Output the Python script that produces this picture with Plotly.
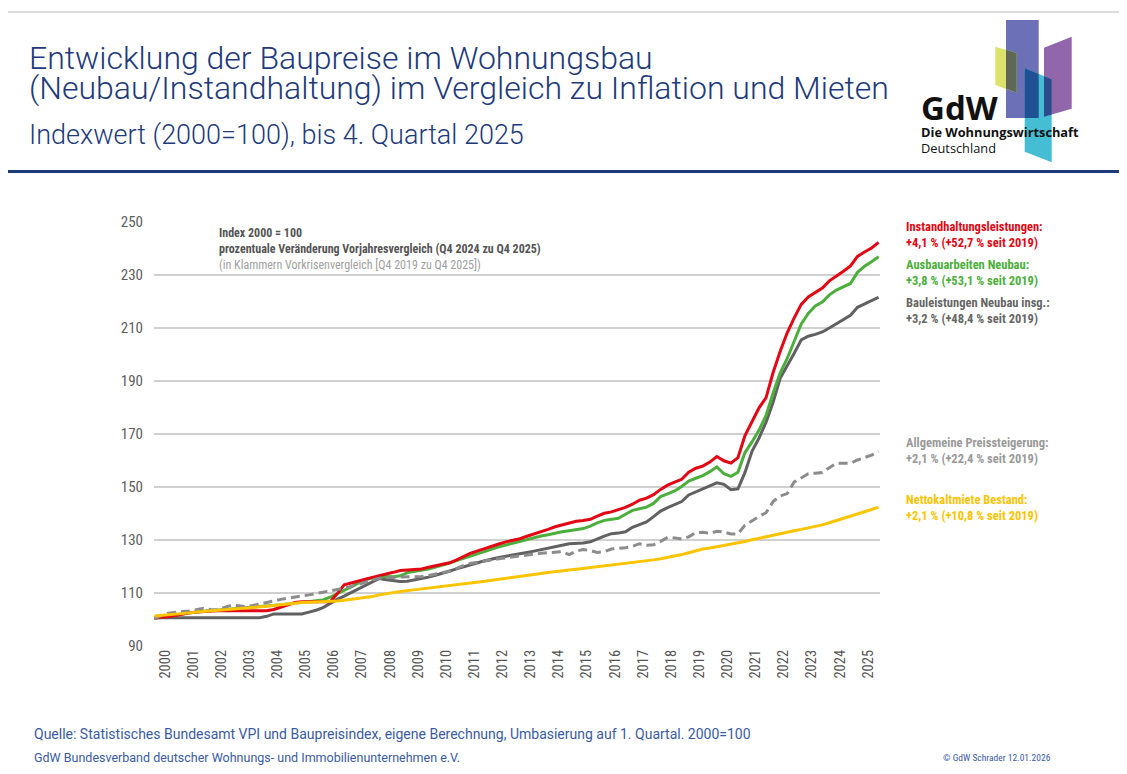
import plotly.graph_objects as go

# ---------------- data (quarterly index, 2000 Q1 .. 2025 Q4) ----------------
years = list(range(2000, 2026))
quarters = [f"{y} Q{q}" for y in years for q in range(1, 5)]

instandhaltung = [
    100.5, 100.7, 101.1, 101.5, 102.1, 102.5, 102.8, 103.0, 103.2, 103.3, 103.3, 103.3, 103.3, 103.3, 103.3, 103.3,
    103.3, 103.8, 104.7, 105.7, 106.4, 106.7, 106.7, 106.7, 106.7, 106.7, 109.7, 113.1, 113.8, 114.6, 115.2, 115.9,
    116.5, 117.0, 117.8, 118.5, 118.7, 118.9, 119.1, 119.7, 120.2, 120.8, 121.4, 122.5, 123.8, 125.0, 125.9, 126.8,
    127.8, 128.5, 129.3, 129.9, 130.5, 131.4, 132.2, 133.1, 134.0, 135.0, 135.7, 136.5, 137.1, 137.4, 137.8, 139.0,
    140.1, 140.6, 141.4, 142.3, 143.5, 145.0, 145.8, 147.1, 149.1, 150.7, 151.8, 152.9, 155.6, 157.1, 157.9, 159.4,
    161.5, 159.9, 159.0, 161.1, 169.4, 174.7, 179.9, 183.7, 193.2, 201.1, 208.2, 213.8, 218.9, 221.7, 223.4, 225.1,
    227.8, 229.5, 231.4, 233.4, 237.0, 238.7, 240.2, 242.3,
]
ausbau_neubau = [
    100.6, 101.0, 101.4, 101.8, 102.2, 102.5, 102.8, 103.1, 103.4, 103.6, 103.8, 104.0, 104.2, 104.4, 104.6, 104.8,
    105.0, 105.3, 105.6, 105.9, 106.2, 106.5, 106.8, 107.1, 107.4, 108.4, 109.6, 110.8, 112.3, 113.7, 115.0, 115.6,
    116.0, 116.2, 116.1, 116.5, 117.7, 118.1, 118.5, 119.0, 119.8, 120.5, 121.3, 122.2, 123.1, 124.0, 124.8, 125.7,
    126.6, 127.4, 128.1, 128.8, 129.5, 130.2, 130.9, 131.5, 132.0, 132.6, 133.1, 133.5, 133.9, 134.3, 135.2, 136.5,
    137.4, 137.8, 138.2, 139.7, 141.2, 141.8, 142.4, 143.8, 146.4, 147.4, 148.5, 150.2, 152.2, 153.3, 154.3, 155.8,
    157.6, 155.0, 154.0, 155.6, 163.0, 167.0, 171.5, 177.0, 185.5, 193.0, 198.5, 205.0, 211.5, 215.5, 218.3, 219.8,
    222.5, 224.3, 225.5, 226.8, 231.0, 233.3, 235.0, 236.9,
]
bauleistungen_neubau = [
    100.7, 100.7, 100.7, 100.7, 100.7, 100.7, 100.7, 100.7, 100.7, 100.7, 100.7, 100.7, 100.7, 100.7, 100.7, 100.7,
    101.2, 102.1, 102.1, 102.1, 102.1, 102.1, 102.8, 103.5, 104.5, 106.2, 107.6, 108.8, 110.1, 111.5, 112.8, 114.1,
    115.5, 115.0, 114.6, 114.3, 114.4, 114.9, 115.4, 116.0, 116.7, 117.4, 118.3, 119.1, 119.8, 120.6, 121.4, 122.2,
    122.9, 123.4, 123.9, 124.3, 124.8, 125.3, 125.8, 126.3, 126.9, 127.5, 128.0, 128.6, 128.7, 128.9, 129.3, 130.5,
    131.5, 132.4, 132.6, 133.1, 134.8, 135.8, 136.8, 138.8, 140.9, 142.2, 143.3, 144.5, 147.0, 148.1, 149.1, 150.5,
    151.6, 151.0, 149.0, 149.3, 155.5, 163.5, 168.5, 174.5, 182.0, 191.0, 195.5, 200.5, 205.5, 206.9, 207.6, 208.5,
    210.0, 211.7, 213.2, 214.8, 217.8, 219.0, 220.2, 221.6,
]
preissteigerung = [
    100.2, 101.5, 102.4, 102.8, 103.0, 103.2, 103.8, 104.2, 103.8, 103.6, 104.6, 105.4, 105.2, 104.9, 105.3, 105.8,
    106.4, 107.0, 107.6, 108.1, 108.5, 108.9, 109.3, 109.9, 110.3, 110.8, 111.2, 111.8, 112.5, 113.3, 114.2, 115.0,
    115.6, 115.9, 115.8, 116.0, 116.0, 116.1, 116.2, 116.6, 117.2, 117.7, 118.1, 119.3, 120.4, 121.2, 121.7, 122.2,
    122.5, 122.9, 123.3, 123.6, 124.0, 124.3, 124.7, 125.0, 125.2, 125.4, 125.6, 124.5, 125.8, 126.4, 126.0, 125.3,
    125.6, 126.6, 126.8, 127.1, 127.6, 128.6, 128.0, 128.2, 129.5, 131.0, 130.8, 130.4, 131.2, 132.8, 132.9, 132.5,
    133.3, 133.0, 132.3, 132.3, 135.6, 137.3, 138.9, 140.3, 144.5, 146.6, 147.5, 151.9, 153.5, 155.0, 155.2, 155.5,
    157.3, 159.0, 159.0, 159.0, 160.2, 161.1, 162.0, 163.4,
]
nettokaltmiete = [
    101.3, 101.5, 101.8, 102.0, 102.3, 102.5, 102.8, 103.0, 103.2, 103.4, 103.6, 103.9, 104.1, 104.3, 104.5, 104.7,
    105.0, 105.3, 105.6, 105.9, 106.2, 106.4, 106.5, 106.6, 106.7, 106.8, 107.0, 107.3, 107.6, 107.9, 108.2, 108.7,
    109.3, 109.8, 110.3, 110.6, 110.9, 111.2, 111.5, 111.8, 112.1, 112.4, 112.7, 113.0, 113.3, 113.6, 114.0, 114.4,
    114.8, 115.2, 115.5, 115.9, 116.2, 116.6, 117.0, 117.4, 117.7, 118.1, 118.4, 118.7, 119.0, 119.3, 119.6, 119.9,
    120.2, 120.5, 120.9, 121.2, 121.5, 121.8, 122.1, 122.5, 122.9, 123.4, 123.9, 124.5, 125.2, 125.9, 126.6, 127.0,
    127.5, 128.0, 128.4, 128.8, 129.4, 130.1, 130.7, 131.3, 131.9, 132.5, 133.0, 133.5, 134.0, 134.5, 135.0, 135.7,
    136.5, 137.3, 138.0, 138.8, 139.7, 140.6, 141.5, 142.4,
]

y_ticks = [90, 110, 130, 150, 170, 190, 210, 230, 250]
year_labels = [str(y) for y in years]

right_labels = [
    ("Instandhaltungsleistungen:", "+4,1 % (+52,7 % seit 2019)", "#e30613", 226, 242),
    ("Ausbauarbeiten Neubau:", "+3,8 % (+53,1 % seit 2019)", "#4caf3c", 264.5, 280.5),
    ("Bauleistungen Neubau insg.:", "+3,2 % (+48,4 % seit 2019)", "#666666", 302.5, 318.5),
    ("Allgemeine Preissteigerung:", "+2,1 % (+22,4 % seit 2019)", "#9a9a9a", 442, 458),
    ("Nettokaltmiete Bestand:", "+2,1 % (+10,8 % seit 2019)", "#fcc400", 499, 515),
]

# ---------------- geometry helpers (reference pixel coords -> paper) ----------------
OFF = 8                      # page body margin
W, H = 1127 - OFF, 774 - OFF
L, R, T, B = 154, 880, 222, 646   # plot area in reference pixels


def px(x):
    return (x - L) / (R - L)


def py(y):
    return (B - y) / (B - T)


x_pos = [int(q[:4]) + (int(q[-1]) - 1) / 4 for q in quarters]

COND = "Roboto Condensed, Roboto, sans-serif"
TITLE_FONT = "Roboto, Open Sans, sans-serif"
LOGO_FONT = "Open Sans, sans-serif"
BLUE = "#1e3a7b"

fig = go.Figure()

series = [
    (bauleistungen_neubau, "#616161", "solid", "Bauleistungen Neubau insg."),
    (ausbau_neubau, "#4caf3c", "solid", "Ausbauarbeiten Neubau"),
    (instandhaltung, "#e30613", "solid", "Instandhaltungsleistungen"),
    (preissteigerung, "#8c8c8c", "9px,5px", "Allgemeine Preissteigerung"),
    (nettokaltmiete, "#fcc400", "solid", "Nettokaltmiete Bestand"),
]
for vals, col, dash, name in series:
    fig.add_trace(go.Scatter(
        x=x_pos, y=vals, mode="lines", name=name,
        line=dict(color=col, width=3, dash=dash),
        hoverinfo="skip",
    ))

ann = []


def text(x, y, s, size, color, family=COND, bold=False, anchor="left", weight=None):
    xx = x - 3 if anchor == "left" else x + 3
    ann.append(dict(
        x=px(xx), y=py(y), xref="paper", yref="paper", text=s, showarrow=False,
        xanchor=anchor, yanchor="middle", align=anchor if anchor != "center" else "center",
        font=dict(family=family, size=size, color=color,
                  weight=weight if weight is not None else (700 if bold else 400)),
    ))


# title block (two big lines in one text, line pitch from the base size)
title_lines = ["Entwicklung der Baupreise im Wohnungsbau",
               "(Neubau/Instandhaltung) im Vergleich zu Inflation und Mieten"]
text(30, 73, "<br>".join(f"<span style='font-size:32px'>{t}</span>" for t in title_lines),
     23, BLUE, TITLE_FONT, weight=300)
text(30, 135, "Indexwert (2000=100), bis 4. Quartal 2025", 27, BLUE, TITLE_FONT, weight=300)

# logo text (one block)
text(922, 121,
     "<b><span style='font-size:33px'>GdW</span></b><br><b>Die Wohnungswirtschaft</b><br>Deutschland",
     12.8, "#111111", LOGO_FONT)

# in-plot note
text(220, 233, "Index 2000 = 100", 12, "#555555", bold=True)
text(220, 249, "prozentuale Veränderung Vorjahresvergleich (Q4 2024 zu Q4 2025)", 12, "#555555", bold=True)
text(220, 265, "(in Klammern Vorkrisenvergleich [Q4 2019 zu Q4 2025])", 12, "#a0a0a0")

# right-hand labels
for l1, l2, col, y1, y2 in right_labels:
    text(907, y1, l1, 12.5, col, bold=True)
    text(907, y2, l2, 12.5, col, bold=True)

# footer
text(35, 734, "Quelle: Statistisches Bundesamt VPI und Baupreisindex, eigene Berechnung, Umbasierung auf 1. Quartal. 2000=100",
     14, "#3a5ba3", "Roboto, sans-serif")
text(35, 757, "GdW Bundesverband deutscher Wohnungs- und Immobilienunternehmen e.V.", 12.5, "#3a5ba3", "Roboto, sans-serif")
text(1050, 757, "© GdW Schrader 12.01.2026", 9.5, "#3a5ba3", COND, anchor="right")

shapes = []


def poly(pts, color):
    d = "M " + " L ".join(f"{px(a):.5f},{py(b):.5f}" for a, b in pts) + " Z"
    shapes.append(dict(type="path", path=d, xref="paper", yref="paper",
                       fillcolor=color, line=dict(width=0), layer="above"))


def seg(x0, y0, x1, y1, color, width):
    shapes.append(dict(type="line", xref="paper", yref="paper", x0=px(x0), x1=px(x1), y0=py(y0), y1=py(y1),
                       line=dict(color=color, width=width)))


# frame and rule
seg(4, 12, 1127, 12, "#dddddd", 2)
seg(4, 12, 4, 774, "#dddddd", 2)
seg(4, 171.5, 1127, 171.5, BLUE, 3)

# logo shapes
poly([(1006, 20), (1038.7, 20), (1038.7, 118), (1006, 118)], "#6c70b6")
poly([(995.3, 46.7), (1016.7, 53), (1016.7, 92.7), (995.3, 85)], "#dde26c")
poly([(1044, 47.7), (1071.7, 36.7), (1071.7, 108.7), (1044, 116.7)], "#9266aa")
poly([(1024.7, 68.3), (1051.7, 79.3), (1051.7, 162.3), (1024.7, 151.7)], "#45bdd3")
poly([(1006, 49.85), (1016.7, 53), (1016.7, 92.7), (1006, 88.85)], "#5f6757")
poly([(1024.7, 68.3), (1038.7, 74.0), (1038.7, 118), (1024.7, 118)], "#1f5193")
poly([(1044, 76.2), (1051.7, 79.3), (1051.7, 114.5), (1044, 116.7)], "#2c4a8c")

fig.update_layout(
    width=W, height=H,
    margin=dict(l=L - OFF, r=1127 - R, t=T - OFF, b=774 - B),
    paper_bgcolor="white", plot_bgcolor="white",
    showlegend=False,
    annotations=ann, shapes=shapes,
    xaxis=dict(
        range=[1999.99, 2025.8],
        tickvals=[y + 0.375 for y in years], ticktext=year_labels,
        tickangle=-90, showgrid=False, zeroline=False, showline=False, ticks="",
        tickfont=dict(family=COND, size=14.5, color="#555555"),
    ),
    yaxis=dict(
        range=[90, 250], tickvals=y_ticks, ticktext=[str(v) for v in y_ticks],
        showgrid=True, gridcolor="#d0d0d0", gridwidth=1.5, zeroline=False, showline=False, ticks="",
        tickfont=dict(family=COND, size=15, color="#606060"), ticklabelstandoff=10,
    ),
)

fig.write_html("out.html")
